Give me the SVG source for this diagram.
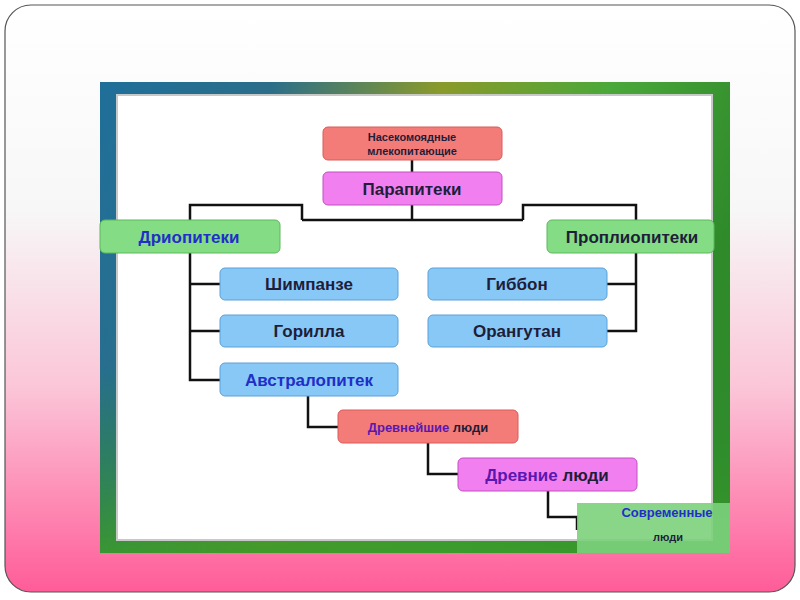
<svg xmlns="http://www.w3.org/2000/svg" width="800" height="600" viewBox="0 0 800 600">
<defs>
<linearGradient id="bg" x1="0" y1="0" x2="0" y2="1">
<stop offset="0" stop-color="#ffffff"/>
<stop offset="0.35" stop-color="#f7f7f7"/>
<stop offset="0.65" stop-color="#fbc6d8"/>
<stop offset="1" stop-color="#ff5c98"/>
</linearGradient>
<linearGradient id="pic" x1="0" y1="0" x2="1" y2="0.3">
<stop offset="0" stop-color="#1f6f9a"/>
<stop offset="0.25" stop-color="#2b6e8a"/>
<stop offset="0.5" stop-color="#8a9a2a"/>
<stop offset="0.75" stop-color="#4aa83a"/>
<stop offset="1" stop-color="#2f8a2a"/>
</linearGradient>
<linearGradient id="picb" x1="0" y1="0" x2="0" y2="1">
<stop offset="0" stop-color="#2a8a40" stop-opacity="0"/>
<stop offset="0.6" stop-color="#2a8a30" stop-opacity="0"/>
<stop offset="1" stop-color="#3a9a2a" stop-opacity="0.9"/>
</linearGradient>
</defs>
<style>
.t{font-family:"Liberation Sans","DejaVu Sans",sans-serif;font-weight:bold;text-anchor:middle}
.big{font-size:17px}
.sm{font-size:11px}
.red{fill:#f47c78;stroke:#d85a5a}
.mag{fill:#f27ff0;stroke:#c050c0}
.grn{fill:#84dc84;stroke:#5cb85c}
.blu{fill:#88c8f6;stroke:#5aa0d8}
.dk{fill:#1e1e3a}
.bl{fill:#1f2fc8}
.pu{fill:#5a18b0}
.c{fill:none;stroke:#111;stroke-width:2.5}
</style>
<rect x="5" y="5" width="790" height="587" rx="26" fill="url(#bg)" stroke="#555" stroke-width="1.2"/>
<rect x="100" y="82" width="630" height="471" fill="url(#pic)"/>
<rect x="100" y="82" width="630" height="471" fill="url(#picb)"/>
<rect x="117" y="95" width="595" height="445" fill="#ffffff" stroke="#c8c8c8" stroke-width="2"/>
<g id="connectors">
<path class="c" d="M412 160V172"/>
<path class="c" d="M412 205V220M302 220H523M302 220V205H190V220M523 220V205H636V220"/>
<path class="c" d="M190 253V380H220M190 284H220M190 331H220"/>
<path class="c" d="M636 253V331H607M636 284H607"/>
<path class="c" d="M308 396V427H338"/>
<path class="c" d="M428 443V474H458"/>
<path class="c" d="M548 491V517H577V530"/>
</g>
<g id="n1"><rect class="red" x="323" y="127" width="179" height="33" rx="5"/>
<text class="t sm dk" x="412" y="141">Насекомоядные</text><text class="t sm dk" x="412" y="155">млекопитающие</text></g>
<g id="n2"><rect class="mag" x="323" y="172" width="179" height="33" rx="5"/>
<text class="t big dk" x="412" y="195">Парапитеки</text></g>
<g id="n3"><rect class="grn" x="100" y="220" width="180" height="33" rx="5"/>
<text class="t big bl" x="189" y="243">Дриопитеки</text></g>
<g id="n4"><rect class="grn" x="547" y="220" width="167" height="33" rx="5"/>
<text class="t big dk" x="632" y="243">Проплиопитеки</text></g>
<g id="n5"><rect class="blu" x="220" y="268" width="178" height="32" rx="5"/>
<text class="t big dk" x="309" y="290">Шимпанзе</text></g>
<g id="n6"><rect class="blu" x="220" y="315" width="178" height="32" rx="5"/>
<text class="t big dk" x="309" y="337">Горилла</text></g>
<g id="n7"><rect class="blu" x="220" y="363" width="178" height="33" rx="5"/>
<text class="t big bl" x="309" y="386">Австралопитек</text></g>
<g id="n8"><rect class="blu" x="428" y="268" width="179" height="32" rx="5"/>
<text class="t big dk" x="517" y="290">Гиббон</text></g>
<g id="n9"><rect class="blu" x="428" y="315" width="179" height="32" rx="5"/>
<text class="t big dk" x="517" y="337">Орангутан</text></g>
<g id="n10"><rect class="red" x="338" y="410" width="180" height="33" rx="5"/>
<text class="t" x="428" y="432" style="font-size:13px"><tspan class="pu">Древнейшие</tspan><tspan class="dk"> люди</tspan></text></g>
<g id="n11"><rect class="mag" x="458" y="458" width="179" height="33" rx="5"/>
<text class="t big" x="547" y="481"><tspan class="pu">Древние</tspan><tspan class="dk"> люди</tspan></text></g>
<g id="n12"><rect x="577" y="503" width="153" height="50" fill="#7cd27c" opacity="0.9"/>
<text class="t" x="667" y="517" style="font-size:13px"><tspan class="bl">Современные</tspan></text>
<text class="t dk" x="668" y="541" style="font-size:11px">люди</text></g>
</svg>
